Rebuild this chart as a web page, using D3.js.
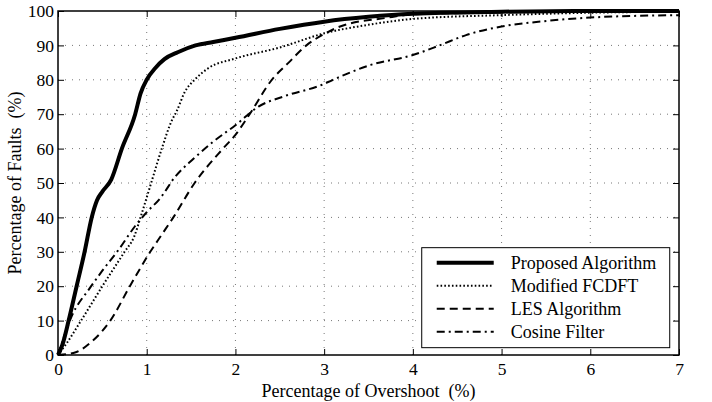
<!DOCTYPE html>
<html>
<head>
<meta charset="utf-8">
<script src="https://cdnjs.cloudflare.com/ajax/libs/d3/7.8.5/d3.min.js"></script>
<style>
  body { margin: 0; background: #fff; }
  text { font-family: "Liberation Serif", "Times New Roman", serif; fill: #000; }
  .grid line { stroke: #777; stroke-width: 1; stroke-dasharray: 1,6; }
  .curve { fill: none; stroke: #000; }
</style>
</head>
<body>
<svg id="chart" width="712" height="402"></svg>
<script>
// overshoot (%) vs cumulative faults (%)
var proposed = [[0,0],[0.05,3],[0.12,10],[0.21,20],[0.30,30],[0.38,40],[0.44,45],[0.5,47.5],[0.6,51],[0.72,60],[0.87,70],[0.93,76],[1.0,80],[1.1,83.5],[1.2,86],[1.35,88],[1.55,90],[1.75,91],[2.0,92.2],[2.5,94.8],[3,96.9],[3.5,98.3],[4,99.2],[5,99.8],[6,100],[7,100]];
var fcdft = [[0,0],[0.1,3.5],[0.26,10],[0.5,20],[0.75,30],[0.86,34.5],[0.93,40],[1.05,50],[1.17,60],[1.28,68],[1.34,71],[1.43,76.5],[1.54,80],[1.69,83.3],[2,86.2],[2.5,89.4],[3,93.5],[3.5,96],[4,97.7],[5,98.8],[6,99.5],[7,99.8]];
var les = [[0,0],[0.2,0.8],[0.38,3.9],[0.5,7],[0.59,10],[0.81,20],[1.04,30],[1.17,35],[1.30,40],[1.54,50],[1.86,60],[2.0,64],[2.16,70],[2.41,80],[2.6,85],[2.8,90],[3.0,93.3],[3.18,95.5],[3.7,98],[4,99],[5,99.6],[6,100],[7,100]];
var cosine = [[0,0],[0.05,4],[0.15,11],[0.36,19.5],[0.5,24.5],[0.68,30.5],[0.87,37.5],[1.0,41.5],[1.15,45.5],[1.32,51.8],[1.53,57.1],[1.75,62],[2.0,66.8],[2.26,72.2],[2.56,75.3],[2.97,78.5],[3.1,80],[3.52,84.3],[4.0,87.2],[4.3,90],[4.6,93],[5.0,95.5],[5.47,97],[6.0,98.1],[7,98.8]];

var seriesNames = ["Proposed Algorithm", "Modified FCDFT", "LES Algorithm", "Cosine Filter"];
var xTicks = [0,1,2,3,4,5,6,7];
var yTicks = [0,10,20,30,40,50,60,70,80,90,100];

var styles = [
  {w: 4, dash: null},
  {w: 2, dash: "1.6,2.2"},
  {w: 2, dash: "8,5"},
  {w: 2, dash: "8,4,2,4"}
];

var svg = d3.select("svg"),
    margin = {top: 11, right: 33, bottom: 47, left: 58},
    width = 712 - margin.left - margin.right,
    height = 402 - margin.top - margin.bottom,
    g = svg.append("g").attr("transform", "translate(" + margin.left + "," + margin.top + ")");

var x = d3.scaleLinear().domain([0, 7]).range([0, width]),
    y = d3.scaleLinear().domain([0, 100]).range([height, 0]);

// grid
var grid = g.append("g").attr("class", "grid");
grid.selectAll(".gx").data(xTicks.slice(1, -1)).enter().append("line")
    .attr("x1", function(d) { return x(d); }).attr("x2", function(d) { return x(d); })
    .attr("y1", 0).attr("y2", height);
grid.selectAll(".gy").data(yTicks.slice(1, -1)).enter().append("line")
    .attr("y1", function(d) { return y(d); }).attr("y2", function(d) { return y(d); })
    .attr("x1", 0).attr("x2", width);

var line = d3.line()
    .curve(d3.curveMonotoneX)
    .x(function(d) { return x(d[0]); })
    .y(function(d) { return y(d[1]); });

var data = [proposed, fcdft, les, cosine];

// draw back to front so the thick line sits on top
[3, 2, 1, 0].forEach(function(i) {
  g.append("path")
      .datum(data[i])
      .attr("class", "curve")
      .attr("d", line)
      .style("stroke-width", styles[i].w)
      .style("stroke-dasharray", styles[i].dash);
});

// axes, ticks inside on all four sides
function styleAxis(sel) {
  sel.select(".domain").remove();
  sel.selectAll(".tick line").attr("stroke", "#000");
  sel.selectAll(".tick text").style("font-size", "17.5px");
}

g.append("g")
    .attr("transform", "translate(0," + height + ")")
    .call(d3.axisBottom(x).tickValues(xTicks).tickFormat(d3.format("d")).tickSizeInner(-6).tickPadding(8))
    .call(styleAxis);
g.append("g")
    .call(d3.axisTop(x).tickValues(xTicks).tickSizeInner(-6).tickFormat(""))
    .call(styleAxis);
g.append("g")
    .call(d3.axisLeft(y).tickValues(yTicks).tickFormat(d3.format("d")).tickSizeInner(-6).tickPadding(4))
    .call(styleAxis);
g.append("g")
    .attr("transform", "translate(" + width + ",0)")
    .call(d3.axisRight(y).tickValues(yTicks).tickSizeInner(-6).tickFormat(""))
    .call(styleAxis);

g.append("rect")
    .attr("width", width)
    .attr("height", height)
    .attr("fill", "none")
    .attr("stroke", "#000")
    .attr("stroke-width", 1.5);

// axis titles
g.append("text")
    .attr("x", width / 2)
    .attr("y", height + 42)
    .attr("text-anchor", "middle")
    .style("font-size", "18px")
    .style("white-space", "pre")
    .text("Percentage of Overshoot  (%)");

g.append("text")
    .attr("transform", "rotate(-90)")
    .attr("x", -height / 2)
    .attr("y", -37)
    .attr("text-anchor", "middle")
    .style("font-size", "18px")
    .style("white-space", "pre")
    .text("Percentage of Faults  (%)");

// legend
var legend = g.append("g").attr("transform", "translate(" + (x(4.1)) + "," + (y(31.2)) + ")");
legend.append("rect")
    .attr("width", 248)
    .attr("height", 100)
    .attr("fill", "#fff")
    .attr("stroke", "#000")
    .attr("stroke-width", 1);

var item = legend.selectAll(".item")
    .data(seriesNames)
    .enter().append("g")
    .attr("class", "item")
    .attr("transform", function(d, i) { return "translate(0," + (15 + i * 23) + ")"; });

item.append("line")
    .attr("x1", 15).attr("x2", 72)
    .attr("stroke", "#000")
    .style("stroke-width", function(d, i) { return styles[i].w; })
    .style("stroke-dasharray", function(d, i) { return styles[i].dash; });

item.append("text")
    .attr("x", 89)
    .attr("dy", "0.35em")
    .style("font-size", "18px")
    .text(function(d) { return d; });
</script>
</body>
</html>
